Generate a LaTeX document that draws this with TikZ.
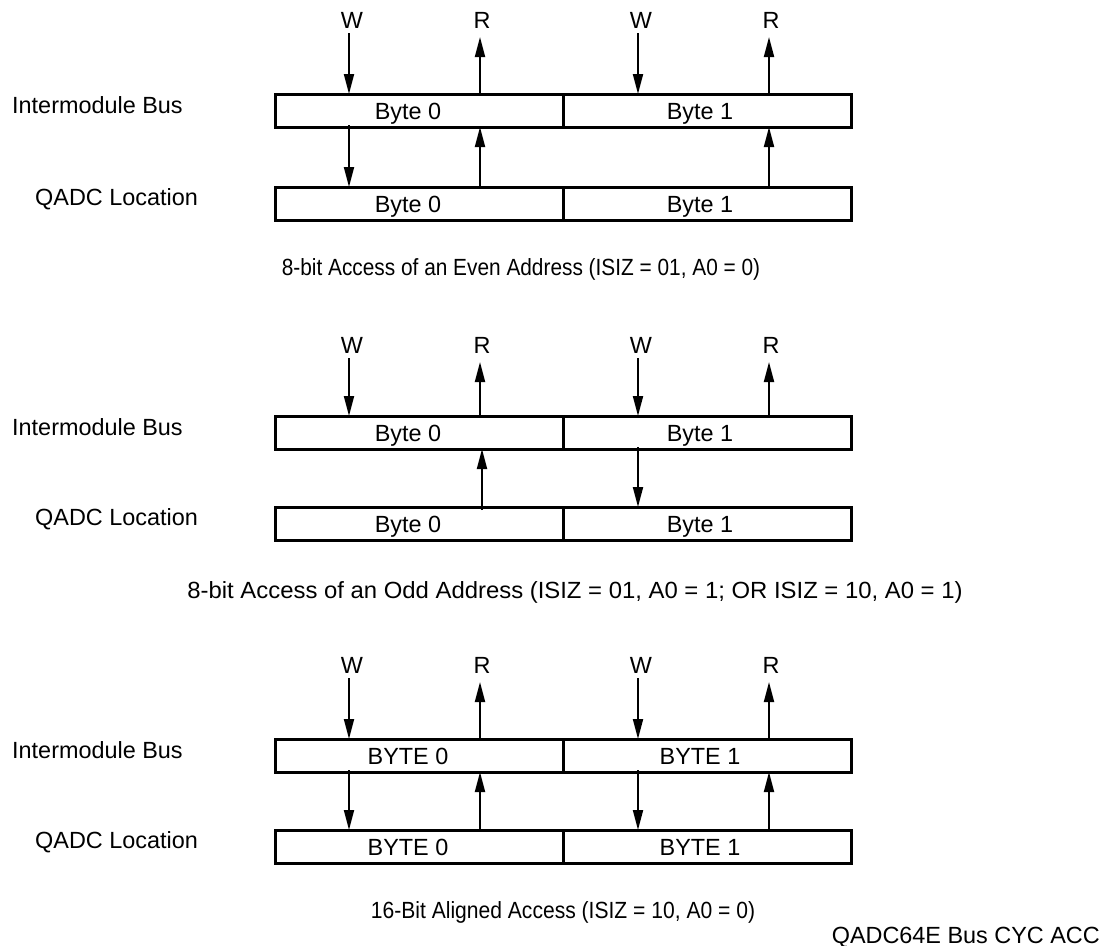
\documentclass[tikz,border=0pt]{standalone}
\usepackage{fontspec}
\setmainfont{Liberation Sans}
\usetikzlibrary{arrows.meta}
\begin{document}
\begin{tikzpicture}[x=1bp,y=-1bp,
  half/.style={draw,line width=3bp,minimum width=288bp,minimum height=33bp,inner sep=0,outer sep=0,anchor=north west},
  lbl/.style={font=\fontsize{23.5}{26}\selectfont,inner sep=0,anchor=base},
  lblw/.style={lbl,anchor=base west},
  arr/.style={line width=1.9bp,-{Triangle[length=20bp,width=10bp]}}]
\useasboundingbox (0,0) rectangle (1109,946);
\foreach \s/\it/\qt/\ly in {1/94/187/28, 2/416/507/353, 3/739/830/673}{
  % boxes
  \node[half] (ibL\s) at (275,\it) {};
  \node[half] (ibR\s) at (563,\it) {};
  \node[half] (qaL\s) at (275,\qt) {};
  \node[half] (qaR\s) at (563,\qt) {};
  % row labels
  \node[lblw] (ibname\s) at (12,\it+19) {Intermodule Bus};
  \node[lblw] (qaname\s) at (35,\qt+18) {QADC Location};
  % top labels
  \node[lbl] (W0\s) at (352,\ly) {W};
  \node[lbl] (R0\s) at (482,\ly) {R};
  \node[lbl] (W1\s) at (641,\ly) {W};
  \node[lbl] (R1\s) at (771,\ly) {R};
  \coordinate (w0t\s) at (349,\ly+5);
  \coordinate (r0t\s) at (480,\ly+9);
  \coordinate (w1t\s) at (638,\ly+5);
  \coordinate (r1t\s) at (769,\ly+9);
  \draw[arr] (w0t\s) -- (w0t\s |- ibL\s.north);
  \draw[arr] (r0t\s |- ibL\s.north) -- (r0t\s);
  \draw[arr] (w1t\s) -- (w1t\s |- ibR\s.north);
  \draw[arr] (r1t\s |- ibR\s.north) -- (r1t\s);
}
% byte texts
\node[lbl] (t10a) at (408,119) {Byte 0};
\node[lbl] (t11a) at (700,119) {Byte 1};
\node[lbl] (t10b) at (408,212) {Byte 0};
\node[lbl] (t11b) at (700,212) {Byte 1};
\node[lbl] (t20a) at (408,441) {Byte 0};
\node[lbl] (t21a) at (700,441) {Byte 1};
\node[lbl] (t20b) at (408,532) {Byte 0};
\node[lbl] (t21b) at (700,532) {Byte 1};
\node[lbl] (t30a) at (408,764) {BYTE 0};
\node[lbl] (t31a) at (700,764) {BYTE 1};
\node[lbl] (t30b) at (408,855) {BYTE 0};
\node[lbl] (t31b) at (700,855) {BYTE 1};
% between-row arrows
\coordinate (c1w0) at (349,125);
\draw[arr] (c1w0) -- (c1w0 |- qaL1.north);
\draw[arr] (480,0 |- qaL1.north) -- (480,0 |- ibL1.south);
\draw[arr] (769,0 |- qaR1.north) -- (769,0 |- ibR1.south);
\coordinate (c2r0) at (482,510);
\draw[arr] (c2r0) -- (c2r0 |- ibL2.south);
\coordinate (c2w1) at (638,447);
\draw[arr] (c2w1) -- (c2w1 |- qaR2.north);
\coordinate (c3w0) at (349,770);
\draw[arr] (c3w0) -- (c3w0 |- qaL3.north);
\draw[arr] (480,0 |- qaL3.north) -- (480,0 |- ibL3.south);
\coordinate (c3w1) at (638,770);
\draw[arr] (c3w1) -- (c3w1 |- qaR3.north);
\draw[arr] (769,0 |- qaR3.north) -- (769,0 |- ibR3.south);
% captions
\node[lbl] (cap1) at (521,275) {\scalebox{0.89}[1]{8-bit Access of an Even Address (ISIZ = 01, A0 = 0)}};
\node[lbl] (cap2) at (575,598) {\scalebox{1.02}[1]{8-bit Access of an Odd Address (ISIZ = 01, A0 = 1; OR ISIZ = 10, A0 = 1)}};
\node[lbl] (cap3) at (563,918) {\scalebox{0.9}[1]{16-Bit Aligned Access (ISIZ = 10, A0 = 0)}};
\node[lbl,anchor=base east] (fig) at (1100,943) {QADC64E Bus CYC ACC};
\end{tikzpicture}
\end{document}
